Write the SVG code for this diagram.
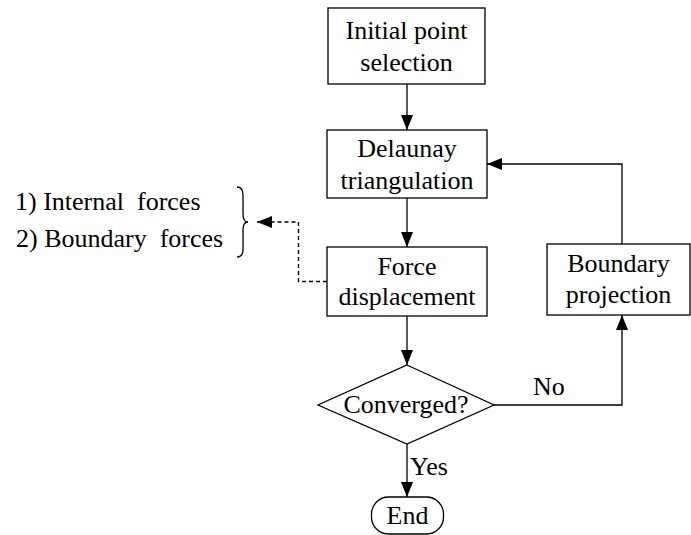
<svg xmlns="http://www.w3.org/2000/svg" width="691" height="535" viewBox="0 0 691 535">
  <style>
    .box { fill: #fff; stroke: #000; stroke-width: 1.3; }
    .line { fill: none; stroke: #000; stroke-width: 1.3; }
    .dash { fill: none; stroke: #000; stroke-width: 1.4; stroke-dasharray: 4 3; }
    text { font-family: "Liberation Serif", "Times New Roman", serif; font-size: 26px; fill: #000; }
    .c { text-anchor: middle; }
  </style>
  <defs>
    <marker id="arrow" viewBox="0 0 15 12" refX="15" refY="6" markerWidth="15" markerHeight="12" markerUnits="userSpaceOnUse" orient="auto">
      <path d="M0,0 L15,6 L0,12 Z" fill="#000"/>
    </marker>
  </defs>
  <rect width="691" height="535" fill="#fff"/>

  <g id="connectors">
    <line class="line" x1="407" y1="84" x2="407" y2="130" marker-end="url(#arrow)"/>
    <line class="line" x1="407" y1="198" x2="407" y2="247" marker-end="url(#arrow)"/>
    <line class="line" x1="407" y1="316" x2="407" y2="365" marker-end="url(#arrow)"/>
    <line class="line" x1="407" y1="444" x2="407" y2="497" marker-end="url(#arrow)"/>
    <polyline class="line" points="494,405 622,405 622,315" marker-end="url(#arrow)"/>
    <polyline class="line" points="622,244 622,164 487,164" marker-end="url(#arrow)"/>
    <polyline class="dash" points="327,281.5 298.5,281.5 298.5,222 257,222" marker-end="url(#arrow)"/>
    <text x="533" y="395">No</text>
    <text x="410" y="475">Yes</text>
  </g>

  <g id="initial">
    <rect class="box" x="328" y="8" width="157" height="76"/>
    <text class="c" x="406.5" y="39">Initial point</text>
    <text class="c" x="406.5" y="71">selection</text>
  </g>

  <g id="delaunay">
    <rect class="box" x="327" y="130" width="160" height="68"/>
    <text class="c" x="407" y="157">Delaunay</text>
    <text class="c" x="407" y="188.5">triangulation</text>
  </g>

  <g id="force">
    <rect class="box" x="327" y="247" width="160" height="69"/>
    <text class="c" x="407" y="275">Force</text>
    <text class="c" x="407" y="305">displacement</text>
  </g>

  <g id="projection">
    <rect class="box" x="547" y="244" width="143" height="71"/>
    <text class="c" x="618.5" y="272">Boundary</text>
    <text class="c" x="618.5" y="303">projection</text>
  </g>

  <g id="converged">
    <polygon class="box" points="407,365 494,405 407,444 318,405"/>
    <text class="c" x="406" y="413">Converged?</text>
  </g>

  <g id="end">
    <rect class="box" x="371.5" y="497" width="72" height="37" rx="17" ry="17"/>
    <text class="c" x="407.5" y="524">End</text>
  </g>

  <g id="forces">
    <text x="15" y="210" xml:space="preserve">1) Internal  forces</text>
    <text x="16" y="247" xml:space="preserve">2) Boundary  forces</text>
    <path class="line" d="M237,187 Q243,187 243,195 L243,214 Q243,222 248,222 Q243,222 243,230 L243,249 Q243,257 237,257"/>
  </g>
</svg>
